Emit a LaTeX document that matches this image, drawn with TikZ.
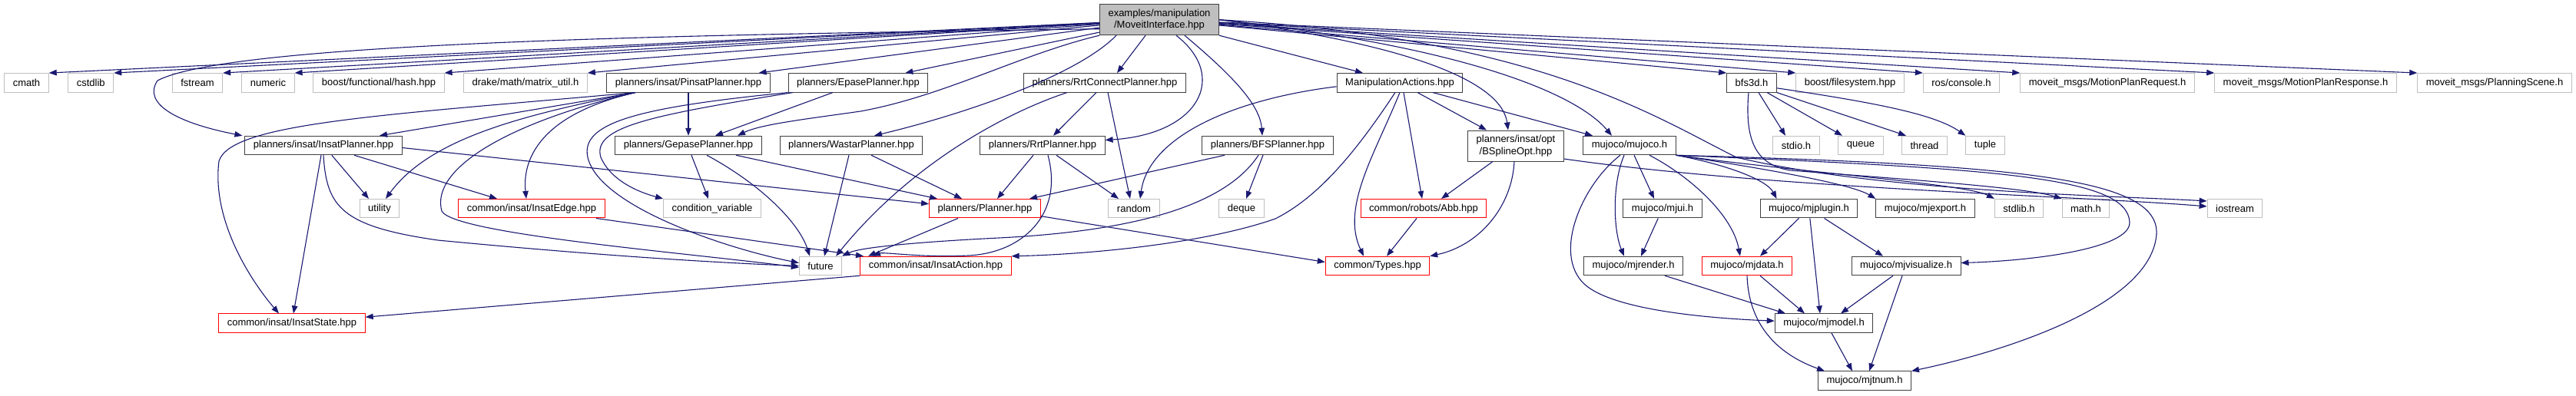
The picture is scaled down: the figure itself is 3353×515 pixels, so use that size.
\documentclass[tikz,border=0pt]{standalone}
\usepackage{fontspec}
\setmainfont{Liberation Sans}
\usetikzlibrary{arrows.meta}
\definecolor{depblue}{RGB}{25,25,112}
\definecolor{sysgrey}{RGB}{191,191,191}
\definecolor{hdrdark}{RGB}{64,64,64}

\begin{document}
\begin{tikzpicture}[
  x=1pt, y=-1pt,
  hdr/.style={draw=hdrdark, fill=white, line width=1pt, inner xsep=11pt, inner ysep=2pt, minimum height=24.5pt, font=\fontsize{13pt}{15.3pt}\selectfont},
  syshdr/.style={hdr, draw=sysgrey},
  redhdr/.style={hdr, draw=red},
  twoline/.style={align=center, minimum height=40pt},
  roothdr/.style={hdr, twoline, fill=sysgrey},
  dep/.style={draw=depblue, line width=1.1pt, -{Triangle[length=10pt, width=7.5pt]}}
]
  \useasboundingbox (0,0) rectangle (3353,515);

  \node[roothdr] (root) at (1509,25.7) {examples/manipulation\\/MoveitInterface.hpp};

  \node[syshdr] (cmath) at (34.5,107.8) {cmath};
  \node[syshdr] (cstdlib) at (118.3,107.8) {cstdlib};
  \node[syshdr] (fstream) at (257,107.8) {fstream};
  \node[syshdr] (numeric) at (349,107.8) {numeric};
  \node[syshdr] (hash) at (493,107.8) {boost/functional/hash.hpp};
  \node[syshdr] (drake) at (684,107.8) {drake/math/matrix\_util.h};
  \node[hdr] (pinsat) at (896,107.8) {planners/insat/PinsatPlanner.hpp};
  \node[hdr] (epase) at (1117,107.8) {planners/EpasePlanner.hpp};
  \node[hdr] (rrtconnect) at (1438,107.8) {planners/RrtConnectPlanner.hpp};
  \node[hdr] (manip) at (1822,107.8) {ManipulationActions.hpp};
  \node[hdr] (bfs3d) at (2280,107.8) {bfs3d.h};
  \node[syshdr] (filesystem) at (2408,107.8) {boost/filesystem.hpp};
  \node[syshdr] (console) at (2553,107.8) {ros/console.h};
  \node[syshdr] (planreq) at (2743,107.8) {moveit\_msgs/MotionPlanRequest.h};
  \node[syshdr] (planresp) at (3001,107.8) {moveit\_msgs/MotionPlanResponse.h};
  \node[syshdr] (scene) at (3247,107.8) {moveit\_msgs/PlanningScene.h};

  \node[hdr] (insat) at (421,189.5) {planners/insat/InsatPlanner.hpp};
  \node[hdr] (gepase) at (896,189.5) {planners/GepasePlanner.hpp};
  \node[hdr] (wastar) at (1108,189.5) {planners/WastarPlanner.hpp};
  \node[hdr] (rrt) at (1357,189.5) {planners/RrtPlanner.hpp};
  \node[hdr] (bfs) at (1650,189.5) {planners/BFSPlanner.hpp};
  \node[hdr, twoline] (bspline) at (1973,190) {planners/insat/opt\\/BSplineOpt.hpp};
  \node[hdr] (mujoco) at (2121,189.5) {mujoco/mujoco.h};
  \node[syshdr] (stdio) at (2338,189.5) {stdio.h};
  \node[syshdr] (queue) at (2422,189.5) {queue};
  \node[syshdr] (thread) at (2505,189.5) {thread};
  \node[syshdr] (tuple) at (2584,189.5) {tuple};

  \node[syshdr] (utility) at (494,271.7) {utility};
  \node[redhdr] (insatedge) at (692,271.7) {common/insat/InsatEdge.hpp};
  \node[syshdr] (condvar) at (927,271.7) {condition\_variable};
  \node[redhdr] (planner) at (1282,271.7) {planners/Planner.hpp};
  \node[syshdr] (random) at (1476,271.7) {random};
  \node[syshdr] (deque) at (1616,271.7) {deque};
  \node[redhdr] (abb) at (1853,271.7) {common/robots/Abb.hpp};
  \node[hdr] (mjui) at (2164,271.7) {mujoco/mjui.h};
  \node[hdr] (mjplugin) at (2354.5,271.7) {mujoco/mjplugin.h};
  \node[hdr] (mjexport) at (2506,271.7) {mujoco/mjexport.h};
  \node[syshdr] (stdlibh) at (2628,271.7) {stdlib.h};
  \node[syshdr] (mathh) at (2715,271.7) {math.h};
  \node[syshdr] (iostream) at (2909,271.7) {iostream};

  \node[syshdr] (future) at (1068,346.5) {future};
  \node[redhdr] (insataction) at (1218,346.5) {common/insat/InsatAction.hpp};
  \node[redhdr] (types) at (1793,346.5) {common/Types.hpp};
  \node[hdr] (mjrender) at (2126,346.5) {mujoco/mjrender.h};
  \node[redhdr] (mjdata) at (2274,346.5) {mujoco/mjdata.h};
  \node[hdr] (mjvisualize) at (2481,346.5) {mujoco/mjvisualize.h};

  \node[redhdr] (insatstate) at (380,421.2) {common/insat/InsatState.hpp};
  \node[hdr] (mjmodel) at (2374,421.2) {mujoco/mjmodel.h};

  \node[hdr] (mjtnum) at (2427,496.2) {mujoco/mjtnum.h};

  \draw[dep] (root) -- (cmath.north east);
  \draw[dep] (root) -- (cstdlib.north east);
  \draw[dep] (root) -- (fstream.north east);
  \draw[dep] (root) -- (numeric.north east);
  \draw[dep] (root) -- (hash.north east);
  \draw[dep] (root) -- (drake.north east);
  \draw[dep] (root) -- ([xshift=-15pt]pinsat.north east);
  \draw[dep] (root) -- ([xshift=-30pt]epase.north east);
  \draw[dep] ([yshift=-12pt]root.west) .. controls (900,45) and (300,55) .. (205,105) .. controls (185,135) and (230,160) .. ([xshift=-3pt]insat.north west);
  \draw[dep] (root.south west) .. controls (1330,70) and (1230,125) .. (1120,145) .. controls (1050,155) and (990,162) .. ([xshift=64pt]gepase.north);
  \draw[dep] ([xshift=-56pt]root.south) .. controls (1400,100) and (1250,150) .. ([xshift=30pt]wastar.north);
  \draw[dep] ([xshift=-18pt]root.south) -- ([xshift=16pt]rrtconnect.north);
  \draw[dep] ([xshift=22pt]root.south) .. controls (1600,100) and (1560,175) .. ([yshift=7pt]rrt.east);
  \draw[dep] ([xshift=33pt]root.south) .. controls (1600,95) and (1640,135) .. ([xshift=-7pt]bfs.north);
  \draw[dep] (root.south east) -- ([xshift=-48pt]manip.north);
  \draw[dep] (root.east) .. controls (1850,60) and (1955,110) .. ([xshift=-10pt]bspline.north);
  \draw[dep] (root.east) .. controls (1900,60) and (2050,120) .. ([xshift=-23pt]mujoco.north);
  \draw[dep] (root.east) .. controls (2000,50) and (2150,150) .. (2260,205) .. controls (2450,250) and (2750,255) .. ([yshift=-3pt]iostream.north west);
  \draw[dep] (root) -- (bfs3d.north west);
  \draw[dep] (root) -- (filesystem.north west);
  \draw[dep] (root) -- (console.north west);
  \draw[dep] (root) -- (planreq.north west);
  \draw[dep] (root) -- (planresp.north west);
  \draw[dep] (root) -- (scene.north west);

  \draw[dep] (pinsat) -- (gepase);
  \draw[dep] ([xshift=-69pt]pinsat.south) -- ([xshift=73pt]insat.north);
  \draw[dep] ([xshift=-69pt]pinsat.south) .. controls (500,150) and (300,160) .. (285,210) .. controls (275,290) and (330,370) .. ([xshift=-17pt]insatstate.north);
  \draw[dep] ([xshift=-69pt]pinsat.south) .. controls (680,150) and (560,180) .. ([xshift=8pt]utility.north);
  \draw[dep] ([xshift=-69pt]pinsat.south) .. controls (700,150) and (680,210) .. ([xshift=-7pt]insatedge.north);
  \draw[dep] ([xshift=-69pt]pinsat.south) .. controls (660,160) and (560,220) .. (575,275) .. controls (590,305) and (900,330) .. ([yshift=-2pt]future.west);

  \draw[dep] ([xshift=-3pt]insat.south) -- ([xshift=2pt]insatstate.north);
  \draw[dep] (insat.south) .. controls (425,270) and (445,295) .. (570,313) .. controls (800,335) and (950,343) .. (future.west);
  \draw[dep] (insat) -- ([xshift=-14pt]utility.north);
  \draw[dep] ([xshift=40pt]insat.south) -- ([xshift=-45pt]insatedge.north);
  \draw[dep] ([yshift=-3pt]insat.east) -- ([yshift=6pt]planner.west);

  \draw[dep] ([xshift=-33pt]epase.south) -- ([xshift=35pt]gepase.north);
  \draw[dep] ([xshift=-85pt]epase.south) .. controls (850,150) and (770,165) .. (782,205) .. controls (795,235) and (830,250) .. (condvar.north west);
  \draw[dep] (epase.south west) .. controls (830,140) and (755,160) .. (765,205) .. controls (780,270) and (950,325) .. ([yshift=4pt]future.west);

  \draw[dep] ([xshift=4pt]gepase.south) -- ([xshift=-5pt]condvar.north);
  \draw[dep] ([xshift=24pt]gepase.south) .. controls (990,240) and (1040,290) .. ([xshift=-14pt]future.north);
  \draw[dep] ([xshift=62pt]gepase.south) -- ([xshift=-62pt]planner.north);

  \draw[dep] ([xshift=-3pt]wastar.south) -- ([xshift=5pt]future.north);
  \draw[dep] ([xshift=26pt]wastar.south) -- ([xshift=-30pt]planner.north);

  \draw[dep] ([xshift=-11pt]rrtconnect.south) -- ([xshift=14pt]rrt.north);
  \draw[dep] ([xshift=4pt]rrtconnect.south) -- ([xshift=-5pt]random.north);
  \draw[dep] ([xshift=-49pt]rrtconnect.south) .. controls (1300,150) and (1180,220) .. ([xshift=-8pt]future.north east);

  \draw[dep] ([xshift=-12pt]rrt.south) -- ([xshift=16pt]planner.north);
  \draw[dep] ([xshift=18pt]rrt.south) -- ([xshift=-20pt]random.north);
  \draw[dep] ([xshift=7pt]rrt.south) .. controls (1385,280) and (1330,330) .. (1260,333) .. controls (1200,336) and (1150,328) .. ([xshift=-82pt]insataction.north);

  \draw[dep] ([xshift=-56pt]bfs.south) -- ([xshift=58pt]planner.north);
  \draw[dep] ([xshift=-6pt]bfs.south) -- ([xshift=6pt]deque.north);
  \draw[dep] ([xshift=-12pt]bfs.south) .. controls (1600,260) and (1500,300) .. (1300,310) .. controls (1200,315) and (1120,322) .. (future.north east);

  \draw[dep] ([xshift=-35pt]planner.south) -- ([xshift=-88pt]insataction.north);
  \draw[dep] ([yshift=-10pt]planner.east) -- ([yshift=5pt]types.west);
  \draw[dep] ([xshift=84pt]insatedge.south) -- ([xshift=-94pt]insataction.north);
  \draw[dep] (insataction.south west) -- ([yshift=8pt]insatstate.east);

  \draw[dep] ([yshift=-5pt]manip.west) .. controls (1600,130) and (1495,180) .. ([xshift=8pt]random.north);
  \draw[dep] ([xshift=-6pt]manip.south) .. controls (1770,190) and (1720,255) .. (1660,285) .. controls (1560,320) and (1400,332) .. (insataction.north east);
  \draw[dep] (manip.south) .. controls (1790,200) and (1745,270) .. ([xshift=-18pt]types.north);
  \draw[dep] ([xshift=5pt]manip.south) -- ([xshift=-2pt]abb.north);
  \draw[dep] ([xshift=23pt]manip.south) -- ([xshift=-38pt]bspline.north);
  \draw[dep] ([xshift=43pt]manip.south) -- ([xshift=-48pt]mujoco.north);

  \draw[dep] ([xshift=-30pt]bspline.south) -- ([xshift=23pt]abb.north);
  \draw[dep] ([xshift=-2pt]bspline.south) .. controls (1968,270) and (1925,320) .. (types.north east);
  \draw[dep] ([yshift=-17pt]bspline.east) .. controls (2300,245) and (2700,255) .. ([yshift=-10pt]iostream.north west);
  \draw[dep] ([xshift=-9pt]abb.south) -- ([xshift=12pt]types.north);

  \draw[dep] ([xshift=-12pt]mujoco.south) .. controls (2060,240) and (2020,330) .. (2062,370) .. controls (2100,405) and (2230,415) .. ([yshift=3pt]mjmodel.west);
  \draw[dep] ([xshift=-7pt]mujoco.south) .. controls (2098,240) and (2100,300) .. ([xshift=-12pt]mjrender.north);
  \draw[dep] ([xshift=6pt]mujoco.south) -- ([xshift=-11pt]mjui.north);
  \draw[dep] ([xshift=26pt]mujoco.south) .. controls (2200,230) and (2255,280) .. ([xshift=-9pt]mjdata.north);
  \draw[dep] (mujoco.south east) .. controls (2250,215) and (2300,235) .. ([xshift=-42pt]mjplugin.north);
  \draw[dep] (mujoco.south east) .. controls (2300,220) and (2410,240) .. (mjexport.north west);
  \draw[dep] (mujoco.south east) .. controls (2350,225) and (2560,240) .. (stdlibh.north west);
  \draw[dep] (mujoco.south east) .. controls (2600,220) and (2770,230) .. (2772,290) .. controls (2772,325) and (2640,340) .. ([yshift=4pt]mjvisualize.east);
  \draw[dep] (mujoco.south east) .. controls (2650,215) and (2810,235) .. (2807,305) .. controls (2800,400) and (2600,460) .. (mjtnum.north east);

  \draw[dep] ([xshift=9pt]bfs3d.south) -- ([xshift=-14pt]stdio.north);
  \draw[dep] ([xshift=20pt]bfs3d.south) -- ([xshift=-24pt]queue.north);
  \draw[dep] (bfs3d.south east) -- ([xshift=-24pt]thread.north);
  \draw[dep] ([yshift=-7pt]bfs3d.east) .. controls (2450,135) and (2520,150) .. (tuple.north west);
  \draw[dep] ([xshift=-4pt]bfs3d.south) .. controls (2270,190) and (2290,215) .. (2330,222) .. controls (2500,235) and (2640,245) .. (mathh.north west);

  \draw[dep] (mjui) -- ([xshift=10pt]mjrender.north);
  \draw[dep] ([xshift=41pt]mjrender.south) -- ([xshift=-50pt]mjmodel.north);
  \draw[dep] ([xshift=-13pt]mjplugin.south) -- ([xshift=17pt]mjdata.north);
  \draw[dep] (mjplugin) -- ([xshift=-5pt]mjmodel.north);
  \draw[dep] ([xshift=20pt]mjplugin.south) -- ([xshift=-30pt]mjvisualize.north);
  \draw[dep] ([xshift=17pt]mjdata.south) -- ([xshift=-25pt]mjmodel.north);
  \draw[dep] (mjdata.south) .. controls (2276,420) and (2310,460) .. ([xshift=-52pt]mjtnum.north);
  \draw[dep] ([xshift=-17pt]mjvisualize.south) -- ([xshift=22pt]mjmodel.north);
  \draw[dep] ([xshift=-5pt]mjvisualize.south) -- ([xshift=6pt]mjtnum.north);
  \draw[dep] ([xshift=10pt]mjmodel.south) -- ([xshift=-16pt]mjtnum.north);
\end{tikzpicture}
\end{document}
